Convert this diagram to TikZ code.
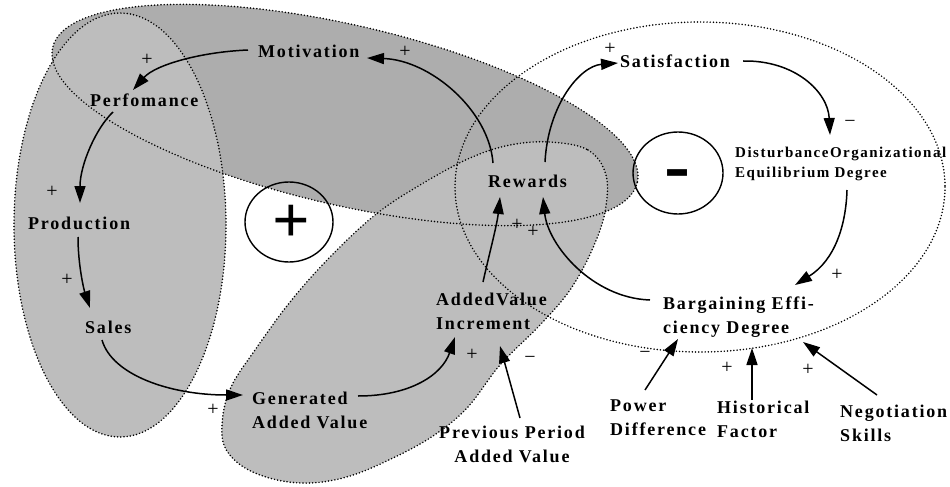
\documentclass[tikz,border=0pt]{standalone}
\usepackage{fontspec}
\usepackage{graphicx}
\usetikzlibrary{arrows.meta,calc,shapes.geometric}
\newfontfamily\lblfont{Liberation Serif}[LetterSpace=10]
\newfontfamily\signfont{Liberation Serif}
\newfontfamily\barfont{Liberation Sans}
\definecolor{shadeTop}{gray}{0.68}
\definecolor{shadeLow}{gray}{0.74}
\tikzset{
  lbl/.style={inner sep=0pt, font=\lblfont\bfseries\fontsize{18}{24}\selectfont},
  lblsmall/.style={inner sep=0pt, font=\lblfont\bfseries\fontsize{15}{20}\selectfont},
  sgn/.style={inner sep=0pt, font=\signfont\fontsize{20}{20}\selectfont},
  link/.style={line width=1.5pt, -{Triangle[length=17pt,width=11pt]}},
  dotline/.style={line width=1.7pt, line cap=round, dash pattern=on 0pt off 3.2pt},
  loopring/.style={draw, line width=1.4pt, ellipse, inner sep=0pt},
}
\begin{document}
\begin{tikzpicture}[x=1pt,y=-1pt]
\useasboundingbox (0,0) rectangle (950,487);
% shaded regions
\fill[shadeTop, rotate around={-13:(345,115)}] (345,115) ellipse [x radius=300, y radius=90];
\fill[shadeLow] (120,225) ellipse [x radius=106, y radius=212];
\fill[shadeLow] plot[smooth cycle, tension=0.6] coordinates {(550,142) (588,150) (606,175) (605,212) (592,250) (570,290) (540,325) (500,365) (467,408) (433,436) (393,458) (350,476) (310,483) (273,479) (242,466) (224,445) (223,415) (232,385) (255,350) (290,302) (330,257) (375,215) (420,185) (470,158) (510,145)};
% dotted outlines
\draw[dotline, rotate around={-13:(345,115)}] (345,115) ellipse [x radius=300, y radius=90];
\draw[dotline] (120,225) ellipse [x radius=106, y radius=212];
\draw[dotline] plot[smooth cycle, tension=0.6] coordinates {(550,142) (588,150) (606,175) (605,212) (592,250) (570,290) (540,325) (500,365) (467,408) (433,436) (393,458) (350,476) (310,483) (273,479) (242,466) (224,445) (223,415) (232,385) (255,350) (290,302) (330,257) (375,215) (420,185) (470,158) (510,145)};
\draw[dotline] (700,187) ellipse [x radius=245, y radius=165];
% loop markers
\node[loopring, minimum width=88pt, minimum height=80pt] (ploop) at (289,222) {};
\node[inner sep=0pt, font=\signfont\bfseries\fontsize{66}{66}\selectfont] (psign) at (291,224) {+};
\node[loopring, minimum width=90pt, minimum height=82pt] (mloop) at (678,173) {};
\node[inner sep=0pt, font=\barfont\bfseries\fontsize{56}{56}\selectfont] (msign) at (678,179) {\scalebox{1.4}[1]{-}};
% labels
\node[lbl, anchor=base west] (mot) at (258,57) {Motivation};
\node[lbl, anchor=base west] (perf) at (90,106) {Perfomance};
\node[lbl, anchor=base west] (prod) at (28,229) {Production};
\node[lbl, anchor=base west] (sales) at (85,333) {Sales};
\node[lbl, anchor=north west, align=left] (gen) at (252,391.7) {Generated\\Added Value};
\node[lbl, anchor=north west, align=left] (avi) at (436,292.7) {AddedValue\\Increment};
\node[lbl, anchor=base west] (rew) at (488,187) {Rewards};
\node[lbl, anchor=base west] (sat) at (620,67) {Satisfaction};
\node[lblsmall, anchor=north west, align=left] (dist) at (735,146.8) {DisturbanceOrganizational\\Equilibrium Degree};
\node[lbl, anchor=north west, align=left] (barg) at (663,296.6) {Bargaining Effi-\\ciency Degree};
\node[lbl, anchor=north west, align=left] (pow) at (610,400) {Power\\Difference};
\node[lbl, anchor=north west, align=left] (hist) at (717,401) {Historical\\Factor};
\node[lbl, anchor=north west, align=left] (neg) at (840,405) {Negotiation\\Skills};
\node[lbl, anchor=north, align=center] (prev) at (512,425.7) {Previous Period\\Added Value};
% connectors
\draw[link] ($(mot.base west)+(-10,-7)$) .. controls (200,52) and (155,65) .. ($(perf.base west)+(43,-16)$);
\draw[link] ($(perf.base west)+(23,6)$) .. controls (96,128) and (80,165) .. ($(prod.base west)+(52,-26)$);
\draw[link] ($(prod.base west)+(50,8)$) .. controls (78,265) and (84,290) .. ($(sales.base west)+(5,-25)$);
\draw[link] ($(sales.base west)+(17,7)$) .. controls (112,375) and (170,395) .. ($(gen.north west)+(-9,3.3)$);
\draw[link] ($(gen.north west)+(106,4.3)$) .. controls (410,396) and (442,375) .. ($(avi.north west)+(19,44.3)$);
\draw[link] ($(avi.north west)+(47,-10.7)$) .. controls (489,255) and (497,225) .. ($(rew.base west)+(12,10)$);
\draw[link] ($(barg.north west)+(-13,3.4)$) .. controls (592,298) and (548,245) .. ($(rew.base west)+(55,10)$);
\draw[link] ($(rew.base west)+(5,-24)$) .. controls (489,110) and (430,60) .. ($(mot.base west)+(109,1)$);
\draw[link] ($(rew.base west)+(57,-25)$) .. controls (548,105) and (580,66) .. ($(sat.base west)+(-2,-4)$);
\draw[link] ($(sat.base west)+(123,-6)$) .. controls (795,60) and (828,92) .. ($(dist.north west)+(95,-11.8)$);
\draw[link] ($(dist.north west)+(112,43.2)$) .. controls (846,225) and (835,260) .. ($(barg.north west)+(132,-11.6)$);
\draw[link] ($(pow.north west)+(35,-10)$) -- ($(barg.north west)+(15,42.4)$);
\draw[link] ($(hist.north west)+(35,-1)$) -- ($(barg.north west)+(89,51.4)$);
\draw[link] ($(neg.north west)+(37,-10)$) -- ($(barg.north west)+(140,45.4)$);
\draw[link] ($(prev.north)+(8,-7.7)$) -- ($(avi.north west)+(64,53.3)$);
% polarity signs
\node[sgn] (s1) at (147,60) {+};
\node[sgn] (s2) at (405,52) {+};
\node[sgn] (s3) at (52,192) {+};
\node[sgn] (s4) at (67,280) {+};
\node[sgn] (s5) at (213,410) {+};
\node[sgn] (s6) at (472,355) {+};
\node[sgn] (s7) at (530,360) {−};
\node[sgn] (s8) at (517,225) {+};
\node[sgn] (s9) at (533,232) {+};
\node[sgn] (s10) at (610,49) {+};
\node[sgn] (s11) at (850,124) {−};
\node[sgn] (s12) at (837,275) {+};
\node[sgn] (s13) at (645,355) {−};
\node[sgn] (s14) at (727,368) {+};
\node[sgn] (s15) at (808,370) {+};
\end{tikzpicture}
\end{document}
